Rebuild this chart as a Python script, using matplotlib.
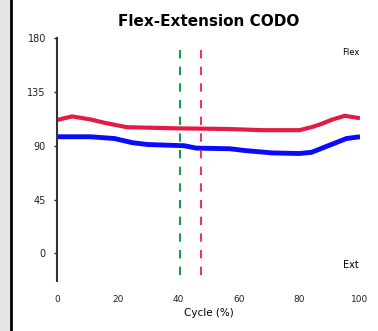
import matplotlib.pyplot as plt
from matplotlib.patches import Rectangle
from matplotlib.lines import Line2D

# values
flex_x = [0, 5, 11, 16, 23, 40, 56, 68, 80, 84, 87, 91, 95, 100]
flex_y = [111.5, 114.5, 112, 109, 105.5, 104.5, 104, 103, 103, 105.5, 108, 112, 115, 113]

ext_x = [0, 11, 19, 25, 30, 42, 46, 57, 62, 71, 80, 84, 87, 91, 95.5, 100]
ext_y = [97.5, 97.5, 96, 92.5, 91, 90, 88, 87.5, 86, 84, 83.5, 84.5, 87.5, 91.5, 96, 97.5]

green_event = 40.6
red_event = 47.5

yticks = [0, 45, 90, 135, 180]
xticks = [0, 20, 40, 60, 80, 100]

fig = plt.figure(figsize=(3.78, 3.31), dpi=100)

# grey strip and black border on the left edge
fig.patches.append(Rectangle((0, 0), 10 / 378, 1, transform=fig.transFigure,
                             facecolor="#e6e6e6", edgecolor="none", zorder=0))
fig.lines.append(Line2D([10.5 / 378, 10.5 / 378], [0, 1], transform=fig.transFigure,
                        color="black", lw=2))

ax = fig.add_axes([57 / 378, 50 / 331, (360 - 57) / 378, (281 - 38) / 331])

ax.plot(flex_x, flex_y, color="#e31b45", lw=3, solid_capstyle="butt")
ax.plot(ext_x, ext_y, color="#0a0aff", lw=3.5, solid_capstyle="butt")

ax.vlines(green_event, -18, 174, colors="#1f9a4a", linestyles=(0, (4, 4)), lw=1.5)
ax.vlines(red_event, -18, 174, colors="#e8395a", linestyles=(0, (4, 4)), lw=1.5)

ax.set_xlim(0, 100)
ax.set_ylim(-23, 180)
ax.set_xticks(xticks)
ax.set_yticks(yticks)
ax.tick_params(axis="x", length=0, labelsize=6.5, pad=10, colors="#222222")
ax.tick_params(axis="y", length=2, width=1, labelsize=7, pad=6, colors="#222222")

for side in ["top", "right", "bottom"]:
    ax.spines[side].set_visible(False)
ax.spines["left"].set_color("#333333")
ax.spines["left"].set_linewidth(1.5)

ax.set_xlabel("Cycle (%)", fontsize=7.5, labelpad=3)
ax.set_title("Flex-Extension CODO", fontsize=11, fontweight="bold", pad=9)

ax.text(97, 168, "Flex", fontsize=6, ha="center", va="center")
ax.text(97, -10, "Ext", fontsize=7, ha="center", va="center")

fig.savefig("out.png", dpi=100)
